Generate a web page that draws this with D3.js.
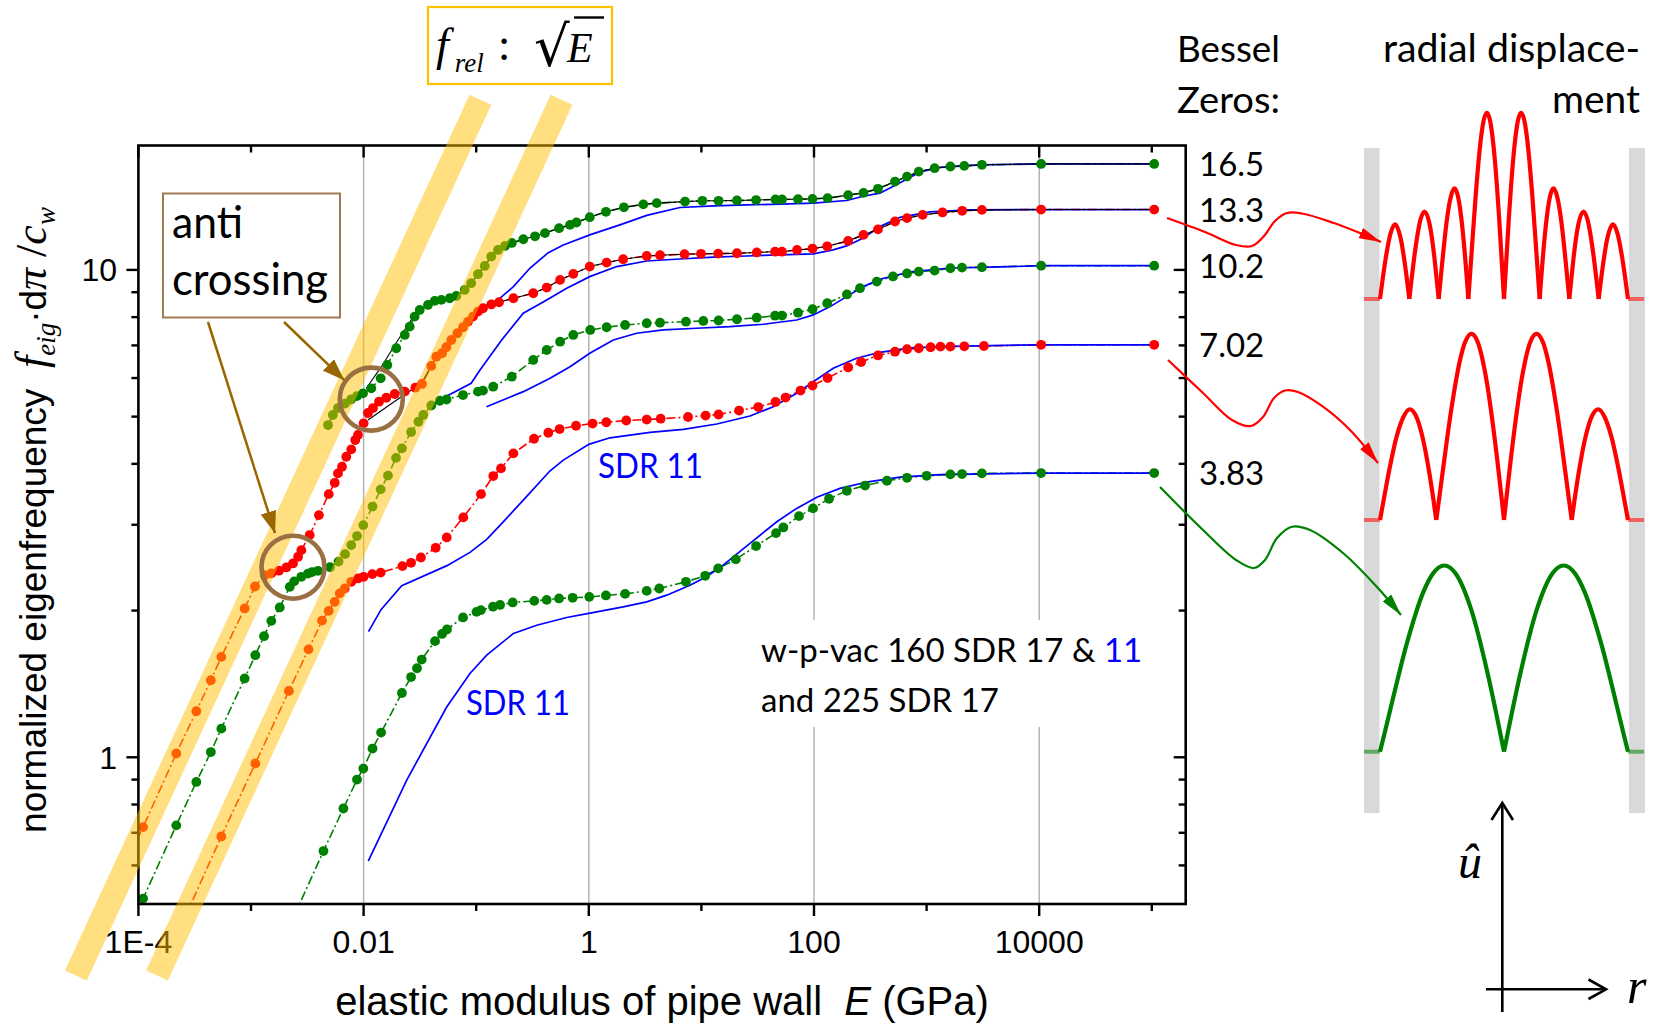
<!DOCTYPE html>
<html><head><meta charset="utf-8">
<script src="https://cdn.jsdelivr.net/npm/d3@7"></script>
<style>body{margin:0;background:#fff}svg{display:block}</style>
</head><body>
<svg id="c" width="1653" height="1024"></svg>
<script>
// ---------------- DATA (E in GPa, normalized eigenfrequency) ----------------
const xMajor = [1e-4, 1e-2, 1, 100, 1e4];
const xMajorLabels = ["1E-4", "0.01", "1", "100", "10000"];
const xMinor = [1e-3, 0.1, 10, 1000, 1e5];
const yMajor = [1, 10];
const yMajorLabels = ["1", "10"];
const yMinor = [0.6, 0.7, 0.8, 0.9, 2, 3, 4, 5, 6, 7, 8, 9];

const besselZeros = [3.83, 7.02, 10.2, 13.3, 16.5];
const besselLabels = ["3.83", "7.02", "10.2", "13.3", "16.5"];

// green mode 1 (plateau 3.83)
const greenMode1 = [[2.43e-3,0.474],[4.40e-3,0.642],[6.61e-3,0.785],[8.74e-3,0.900],[9.94e-3,0.948],[1.20e-2,1.042],[1.43e-2,1.124],[2.19e-2,1.355],[2.64e-2,1.461],[2.98e-2,1.523],[3.28e-2,1.587],[4.31e-2,1.731],[4.97e-2,1.791],[5.50e-2,1.829],[7.64e-2,1.936],[0.1006,1.988],[0.110,2.004],[0.141,2.037],[0.163,2.054],[0.211,2.078],[0.328,2.094],[0.423,2.104],[0.544,2.118],[0.719,2.124],[1.01,2.134],[1.42,2.148],[2.10,2.164],[3.27,2.195],[4.23,2.220],[7.29,2.291],[10.8,2.357],[14.1,2.441],[20.2,2.547],[30.6,2.713],[46.0,2.884],[53.4,2.962],[73.6,3.125],[98.0,3.241],[136,3.392],[196,3.523],[284,3.610],[445,3.693],[670,3.745],[1000,3.781],[1627,3.806],[2063,3.812],[3100,3.824],[1.04e4,3.83],[1.05e5,3.83]];
// red mode 2 (plateau 7.02)
const redMode2 = [[2.64e-4,0.474],[5.45e-4,0.688],[1.092e-3,0.971],[2.17e-3,1.368],[3.24e-3,1.665],[4.27e-3,1.907],[4.90e-3,1.997],[5.54e-3,2.084],[6.14e-3,2.169],[6.80e-3,2.220],[7.77e-3,2.291],[8.91e-3,2.328],[1.00e-2,2.346],[1.195e-2,2.376],[1.418e-2,2.393],[2.21e-2,2.467],[2.64e-2,2.506],[3.23e-2,2.570],[4.37e-2,2.690],[5.47e-2,2.825],[7.68e-2,3.106],[0.1103,3.467],[0.1418,3.776],[0.166,3.915],[0.214,4.203],[0.326,4.504],[0.437,4.633],[0.551,4.715],[0.770,4.789],[1.08,4.839],[1.43,4.869],[2.15,4.909],[3.27,4.932],[4.35,4.951],[7.61,4.991],[10.9,5.026],[14.2,5.050],[21.6,5.146],[32.0,5.232],[45.5,5.358],[55.9,5.472],[75.9,5.656],[97,5.791],[132,6.000],[201,6.307],[262,6.473],[370,6.675],[524,6.796],[670,6.874],[852,6.906],[1085,6.939],[1328,6.96],[1627,6.96],[2160,6.97],[3230,6.98],[1.04e4,7.02],[1.05e5,7.02]];
// green mode 3 (plateau 10.2)
const greenMode3 = [[9.2e-5,0.474],[1.1e-4,0.513],[2.17e-4,0.725],[3.27e-4,0.890],[4.40e-4,1.025],[5.45e-4,1.145],[8.78e-4,1.451],[1.092e-3,1.620],[1.305e-3,1.772],[1.515e-3,1.905],[1.80e-3,2.030],[2.21e-3,2.237],[2.42e-3,2.296],[2.80e-3,2.346],[3.21e-3,2.382],[3.48e-3,2.399],[3.93e-3,2.413],[5.03e-3,2.455],[5.99e-3,2.520],[6.84e-3,2.611],[7.77e-3,2.725],[8.74e-3,2.844],[9.94e-3,2.995],[1.20e-2,3.269],[1.418e-2,3.546],[1.647e-2,3.784],[1.94e-2,4.115],[2.19e-2,4.304],[2.64e-2,4.649],[3.07e-2,4.881],[3.39e-2,5.039],[3.99e-2,5.270],[4.74e-2,5.390],[5.45e-2,5.421],[7.64e-2,5.537],[0.1037,5.626],[0.1149,5.653],[0.1415,5.760],[0.207,6.038],[0.321,6.535],[0.423,6.850],[0.556,7.125],[0.728,7.354],[1.03,7.530],[1.44,7.627],[2.10,7.709],[3.27,7.772],[4.29,7.794],[7.29,7.830],[10.4,7.857],[14.2,7.875],[20.7,7.920],[31.0,7.980],[45.1,8.056],[52.0,8.06],[72.1,8.171],[97.0,8.304],[131,8.543],[196,8.906],[256,9.172],[361,9.462],[503,9.697],[670,9.835],[852,9.92],[1178,9.97],[1627,10.08],[2063,10.11],[3100,10.13],[1.04e4,10.2],[1.05e5,10.2]];
// red mode 4 (plateau 13.3)
const redMode4 = [[8.42e-5,0.63],[1.10e-4,0.719],[2.17e-4,1.018],[3.27e-4,1.243],[4.40e-4,1.439],[5.45e-4,1.607],[8.78e-4,2.020],[1.085e-3,2.241],[1.324e-3,2.364],[1.515e-3,2.384],[1.77e-3,2.415],[2.06e-3,2.452],[2.36e-3,2.499],[2.62e-3,2.578],[2.80e-3,2.661],[3.32e-3,2.857],[4.01e-3,3.140],[4.90e-3,3.467],[5.54e-3,3.658],[5.92e-3,3.824],[6.43e-3,3.946],[7.02e-3,4.137],[7.77e-3,4.283],[8.43e-3,4.476],[8.91e-3,4.584],[1.00e-2,4.844],[1.094e-2,5.086],[1.212e-2,5.207],[1.37e-2,5.366],[1.59e-2,5.467],[1.89e-2,5.564],[2.32e-2,5.626],[2.88e-2,5.733],[3.30e-2,5.834],[3.99e-2,6.353],[4.42e-2,6.637],[4.97e-2,6.745],[5.43e-2,6.939],[6.01e-2,7.182],[6.80e-2,7.413],[7.64e-2,7.627],[8.45e-2,7.830],[9.37e-2,8.020],[0.1037,8.211],[0.1149,8.343],[0.136,8.495],[0.1594,8.584],[0.214,8.747],[0.321,8.957],[0.423,9.199],[0.556,9.539],[0.728,9.813],[1.02,10.16],[1.44,10.35],[2.02,10.52],[3.27,10.68],[4.29,10.72],[7.08,10.77],[9.92,10.79],[14.1,10.80],[20.7,10.82],[31.0,10.86],[45.1,10.90],[52.0,10.90],[70.7,10.99],[97.0,11.06],[131,11.18],[201,11.47],[275,11.80],[370,12.11],[524,12.57],[670,12.77],[922,12.97],[1385,13.12],[2070,13.22],[3100,13.28],[1.04e4,13.3],[1.05e5,13.3]];
// green mode 5 (plateau 16.5)
const greenMode5 = [[4.83e-3,4.805],[5.33e-3,5.039],[5.92e-3,5.207],[6.84e-3,5.319],[7.73e-3,5.421],[8.74e-3,5.511],[9.88e-3,5.582],[1.17e-2,5.716],[1.418e-2,5.993],[1.624e-2,6.381],[1.95e-2,6.906],[2.32e-2,7.354],[2.57e-2,7.649],[2.84e-2,8.020],[3.15e-2,8.277],[3.73e-2,8.474],[4.28e-2,8.638],[4.90e-2,8.679],[5.82e-2,8.747],[6.66e-2,8.843],[7.90e-2,9.097],[9.02e-2,9.391],[0.1037,9.799],[0.119,10.19],[0.136,10.65],[0.156,10.99],[0.180,11.20],[0.207,11.36],[0.262,11.56],[0.333,11.72],[0.408,11.90],[0.544,12.18],[0.681,12.37],[0.777,12.51],[1.02,12.83],[1.42,13.16],[2.05,13.44],[3.05,13.63],[4.01,13.71],[7.15,13.81],[10.2,13.86],[14.2,13.86],[20.7,13.88],[30.6,13.91],[45.5,13.95],[52.0,13.95],[72.1,13.97],[97.0,13.99],[132,14.04],[201,14.24],[275,14.39],[370,14.67],[524,15.18],[670,15.54],[852,15.91],[1178,16.17],[1627,16.30],[2160,16.35],[3100,16.43],[1.04e4,16.5],[1.05e5,16.5]];

// SDR 11 (blue lines)
const blueMode1 = [[1.10e-2,0.612],[2.41e-2,0.897],[5.47e-2,1.268],[8.80e-2,1.486],[0.124,1.620],[0.214,1.795],[0.345,1.866],[0.636,1.936],[1.00,1.973],[2.02,2.035],[3.27,2.084],[4.92,2.151],[7.91,2.255],[11.1,2.346],[15.6,2.479],[27.0,2.747],[46.7,3.042],[70.2,3.241],[106,3.415],[170,3.562],[303,3.675],[581,3.758],[1315,3.803],[1.04e4,3.83],[1.05e5,3.83]];
const blueMode2 = [[1.105e-2,1.811],[1.427e-2,2.009],[2.18e-2,2.249],[5.50e-2,2.473],[8.80e-2,2.633],[0.124,2.799],[0.174,3.042],[0.262,3.371],[0.453,3.871],[0.594,4.072],[1.00,4.386],[1.54,4.524],[3.50,4.642],[6.91,4.709],[13.7,4.828],[27.0,5.014],[43.5,5.240],[70.2,5.582],[98.6,5.896],[148,6.283],[239,6.587],[385,6.776],[714,6.917],[1630,6.97],[1.04e4,7.02],[1.05e5,7.02]];
const blueMode3 = [[0.1235,5.240],[0.262,5.626],[0.453,5.993],[0.681,6.331],[1.02,6.745],[1.65,7.182],[2.66,7.413],[4.59,7.530],[9.06,7.591],[17.9,7.649],[35.5,7.735],[70.2,7.894],[98.6,8.085],[139,8.408],[195,8.814],[274,9.241],[385,9.570],[714,9.906],[1630,10.09],[4490,10.14],[1.04e4,10.2],[1.05e5,10.2]];
const blueMode4 = [[3.99e-2,5.282],[5.50e-2,5.511],[9.02e-2,5.853],[0.1081,6.232],[0.1684,7.182],[0.262,8.149],[0.423,8.679],[0.636,9.172],[1.02,9.687],[1.77,10.16],[3.27,10.43],[6.45,10.53],[12.8,10.62],[25.2,10.68],[49.9,10.74],[98.6,10.79],[148,10.99],[195,11.20],[274,11.62],[385,12.27],[581,12.82],[1072,13.16],[2430,13.28],[1.04e4,13.3],[1.05e5,13.3]];
const blueMode5 = [[0.1081,8.343],[0.156,8.679],[0.214,9.241],[0.301,10.09],[0.437,10.85],[0.594,11.25],[1.02,11.80],[1.89,12.37],[3.27,12.94],[6.45,13.43],[12.8,13.53],[25.2,13.60],[49.9,13.64],[98.6,13.71],[195,13.88],[274,14.16],[385,14.37],[581,15.09],[874,15.89],[1315,16.23],[2990,16.43],[1.04e4,16.5],[1.05e5,16.5]];

// 225 SDR 17 (thin black lines, differ only near the anti-crossing)
const blackMode4Start = [[1.094e-2,4.92],[2.16e-2,5.494],[3.26e-2,5.853]];
const blackMode5Start = [[1.057e-2,5.716],[1.44e-2,6.331],[2.02e-2,7.182],[2.84e-2,8.085],[3.49e-2,8.408],[4.58e-2,8.609]];

// f ~ sqrt(E) guide bands (end points)
const leftBand = [[2.786e-5,0.3567],[0.1091,22.34]];
const rightBand = [[1.462e-4,0.3567],[0.5728,22.34]];
// anti-crossing circles (centre E, f)
const antiCrossings = [[1.17e-2,5.43],[2.36e-3,2.455]];

// |J1(x)| table for the radial displacement sketches
const besselJ1Abs = [[0,0],[0.5,0.2423],[1,0.4401],[1.5,0.5579],[1.8412,0.5819],[2.2,0.5560],[2.5,0.4971],[3,0.3391],[3.5,0.1374],[3.7,0.054],[3.8317,0],[4.0,0.0660],[4.2,0.1386],[4.6,0.2566],[5,0.3276],[5.3314,0.3461],[5.7,0.3212],[6.1,0.2554],[6.5,0.1538],[6.8,0.065],[7.0156,0],[7.25,0.066],[7.5,0.1352],[8,0.2346],[8.5363,0.2733],[9,0.2453],[9.5,0.1613],[9.9,0.0694],[10.1735,0],[10.6,0.0992],[11.1,0.1890],[11.706,0.2333],[12.2,0.2040],[12.7,0.1290],[13.0,0.0703],[13.3237,0]];
const shapeModes = [13.3237, 7.0156, 3.8317];

// ---------------- LAYOUT ----------------
const RED = "#ff0000", GREEN = "#008000", BLUE = "#0000ff", BROWN = "#9a6f42", ARROWBROWN = "#996600";
const SANS = "'Liberation Sans', Arial, sans-serif";
const CAL = "Lato, 'Open Sans', sans-serif";
const SERIF = "'Liberation Serif', 'Times New Roman', serif";
const plot = {left: 138.4, right: 1185.7, top: 145.5, bottom: 904};

const svg = d3.select('#c');
const defs = svg.append('defs');
defs.append('clipPath').attr('id', 'plotClip').append('rect')
  .attr('x', plot.left).attr('y', plot.top)
  .attr('width', plot.right - plot.left).attr('height', plot.bottom - plot.top);

function marker(id, color, w, h) {
  defs.append('marker').attr('id', id).attr('viewBox', `0 0 ${w} ${h}`)
    .attr('refX', w).attr('refY', h / 2).attr('markerWidth', w).attr('markerHeight', h)
    .attr('markerUnits', 'userSpaceOnUse').attr('orient', 'auto')
    .append('path').attr('d', `M0,0 L${w},${h/2} L0,${h} Z`).attr('fill', color);
}
marker('mBrown', ARROWBROWN, 22, 16);
marker('mRed', RED, 22, 11);
marker('mGreen', GREEN, 22, 11);

const x = d3.scaleLog().domain([1e-4, 2e5]).range([plot.left, plot.right]);
const y = d3.scaleLog().domain([0.5, 18]).range([plot.bottom, plot.top]);
const line = d3.line().x(d => x(d[0])).y(d => y(d[1]));

// grid
svg.append('g').selectAll('line').data(xMajor.slice(1)).join('line')
  .attr('x1', d => x(d)).attr('x2', d => x(d)).attr('y1', plot.top).attr('y2', plot.bottom)
  .attr('stroke', '#b4b4b4').attr('stroke-width', 1.5);

// white background for the legend text
svg.append('rect').attr('x', 752).attr('y', 620).attr('width', 396).attr('height', 107).attr('fill', '#fff');

const dataG = svg.append('g').attr('clip-path', 'url(#plotClip)');
const dotted = [
  {d: greenMode1, c: GREEN}, {d: redMode2, c: RED}, {d: greenMode3, c: GREEN},
  {d: redMode4, c: RED}, {d: greenMode5, c: GREEN}
];
dotted.forEach(s => dataG.append('path').attr('d', line(s.d)).attr('fill', 'none')
  .attr('stroke', s.c).attr('stroke-width', 1.6).attr('stroke-dasharray', '9,3,2,3'));
[blueMode1, blueMode2, blueMode3, blueMode4, blueMode5].forEach(d =>
  dataG.append('path').attr('d', line(d)).attr('fill', 'none').attr('stroke', BLUE).attr('stroke-width', 1.7));
const blackMode4 = blackMode4Start.concat(redMode4.filter(d => d[0] >= 0.0399));
const blackMode5 = blackMode5Start.concat(greenMode5.filter(d => d[0] >= 0.058));
[blackMode4, blackMode5].forEach(d =>
  dataG.append('path').attr('d', line(d)).attr('fill', 'none').attr('stroke', '#000').attr('stroke-width', 1.1));
dotted.forEach(s => dataG.append('g').selectAll('circle')
  .data(s.d.filter(p => p[0] >= 1e-4 && p[1] >= 0.5 && p[1] <= 18)).join('circle')
  .attr('cx', p => x(p[0])).attr('cy', p => y(p[1])).attr('r', 4.9).attr('fill', s.c));

// axes frame + ticks
const axG = svg.append('g').attr('stroke', '#000');
axG.append('rect').attr('x', plot.left).attr('y', plot.top).attr('width', plot.right - plot.left)
  .attr('height', plot.bottom - plot.top).attr('fill', 'none').attr('stroke-width', 2.6);
function ticksX(vals, len) {
  axG.append('g').selectAll('line').data(vals).join('line').attr('stroke-width', 2.4)
    .attr('x1', d => x(d)).attr('x2', d => x(d)).attr('y1', plot.bottom).attr('y2', plot.bottom + len);
  axG.append('g').selectAll('line').data(vals).join('line').attr('stroke-width', 2.4)
    .attr('x1', d => x(d)).attr('x2', d => x(d)).attr('y1', plot.top).attr('y2', plot.top + len);
}
function ticksY(vals, len) {
  axG.append('g').selectAll('line').data(vals).join('line').attr('stroke-width', 2.4)
    .attr('y1', d => y(d)).attr('y2', d => y(d)).attr('x1', plot.left).attr('x2', plot.left - len);
  axG.append('g').selectAll('line').data(vals).join('line').attr('stroke-width', 2.4)
    .attr('y1', d => y(d)).attr('y2', d => y(d)).attr('x1', plot.right).attr('x2', plot.right - len);
}
ticksX(xMajor, 12); ticksX(xMinor, 7);
ticksY(yMajor, 12); ticksY(yMinor, 7);

svg.append('g').selectAll('text').data(xMajor).join('text')
  .attr('x', d => x(d)).attr('y', 953).attr('text-anchor', 'middle')
  .attr('font-family', SANS).attr('font-size', 32).text((d, i) => xMajorLabels[i]);
svg.append('g').selectAll('text').data(yMajor).join('text')
  .attr('x', 117).attr('y', d => y(d) + 11.5).attr('text-anchor', 'end')
  .attr('font-family', SANS).attr('font-size', 32).text((d, i) => yMajorLabels[i]);

// axis titles
const xt = svg.append('text').attr('x', 662).attr('y', 1015).attr('text-anchor', 'middle')
  .attr('font-family', SANS).attr('font-size', 40).attr('xml:space', 'preserve');
xt.append('tspan').text('elastic modulus of pipe wall  ');
xt.append('tspan').attr('font-style', 'italic').text('E');
xt.append('tspan').text(' (GPa)');

const yt = svg.append('text').attr('transform', 'translate(46,520) rotate(-90)')
  .attr('text-anchor', 'middle').attr('font-family', SANS).attr('font-size', 37).attr('xml:space', 'preserve');
yt.append('tspan').text('normalized eigenfrequency  ');
yt.append('tspan').attr('font-family', SERIF).attr('font-style', 'italic').attr('font-size', 44).text('f');
yt.append('tspan').attr('font-family', SERIF).attr('font-style', 'italic').attr('font-size', 27).attr('dy', 9).text('eig');
yt.append('tspan').attr('dy', -9).text('·d');
yt.append('tspan').attr('font-family', SERIF).attr('font-style', 'italic').attr('font-size', 44).text('π');
yt.append('tspan').attr('font-family', SERIF).attr('font-size', 44).text(' /');
yt.append('tspan').attr('font-family', SERIF).attr('font-style', 'italic').attr('font-size', 44).text('c');
yt.append('tspan').attr('font-family', SERIF).attr('font-style', 'italic').attr('font-size', 27).attr('dy', 9).text('w');

// in-plot labels
function calText(tx, ty, str, size, len, color, anchor) {
  const t = svg.append('text').attr('x', tx).attr('y', ty).attr('font-family', CAL).attr('font-size', size)
    .attr('fill', color || '#000').attr('text-anchor', anchor || 'start').text(str);
  if (len) t.attr('textLength', len).attr('lengthAdjust', 'spacingAndGlyphs');
  return t;
}
calText(598, 478, 'SDR 11', 34, 105, BLUE);
calText(466, 715, 'SDR 11', 34, 104, BLUE);
const lg = svg.append('text').attr('x', 761).attr('y', 662).attr('font-family', CAL).attr('font-size', 33).attr('xml:space', 'preserve');
lg.append('tspan').text('w-p-vac 160 SDR 17 & ');
lg.append('tspan').attr('fill', BLUE).text('11');
calText(761, 712, 'and 225 SDR 17', 33);

// Bessel zeros
svg.append('g').selectAll('text').data(besselZeros).join('text')
  .attr('x', 1199).attr('y', d => y(d) + 12).attr('font-family', CAL).attr('font-size', 33)
  .text((d, i) => besselLabels[i]);
calText(1177, 62, 'Bessel', 37, 103);
calText(1177, 113, 'Zeros:', 37, 103);
calText(1640, 62, 'radial displace-', 38, 257, '#000', 'end');
calText(1640, 113, 'ment', 38, 88, '#000', 'end');

// sqrt(E) bands (translucent, on top of data)
[leftBand, rightBand].forEach(b => svg.append('path').attr('d', line(b)).attr('fill', 'none')
  .attr('stroke', '#ffc000').attr('stroke-opacity', 0.5).attr('stroke-width', 24));

// anti-crossing circles
svg.append('g').selectAll('circle').data(antiCrossings).join('circle')
  .attr('cx', d => x(d[0])).attr('cy', d => y(d[1])).attr('r', 31.5)
  .attr('fill', 'none').attr('stroke', BROWN).attr('stroke-width', 4.6);

// anti crossing box
svg.append('rect').attr('x', 163).attr('y', 193.5).attr('width', 177).attr('height', 124)
  .attr('fill', '#fff').attr('stroke', '#a07a50').attr('stroke-width', 2);
calText(172, 238, 'anti', 45, 71);
calText(172, 295, 'crossing', 45, 156);
svg.append('line').attr('x1', 208).attr('y1', 322).attr('x2', x(antiCrossings[1][0]) - 18).attr('y2', y(antiCrossings[1][1]) - 34)
  .attr('stroke', ARROWBROWN).attr('stroke-width', 2.5).attr('marker-end', 'url(#mBrown)');
svg.append('line').attr('x1', 284).attr('y1', 322).attr('x2', x(antiCrossings[0][0]) - 27).attr('y2', y(antiCrossings[0][1]) - 19)
  .attr('stroke', ARROWBROWN).attr('stroke-width', 2.5).attr('marker-end', 'url(#mBrown)');

// f_rel : sqrt(E) box
svg.append('rect').attr('x', 428).attr('y', 7).attr('width', 184).attr('height', 77)
  .attr('fill', '#fff').attr('stroke', '#ffc000').attr('stroke-width', 2.2);
const fr = svg.append('text').attr('x', 436).attr('y', 60).attr('font-family', SERIF).attr('font-size', 46);
fr.append('tspan').attr('font-style', 'italic').text('f');
fr.append('tspan').attr('font-style', 'italic').attr('font-size', 27).attr('dy', 12).attr('dx', 6).text('rel');
fr.append('tspan').attr('dy', -12).attr('dx', 14).text(':');
svg.append('text').attr('x', 534).attr('y', 66).attr('font-family', "'DejaVu Serif', serif").attr('font-size', 56).text('√');
svg.append('line').attr('x1', 574).attr('x2', 604).attr('y1', 17.5).attr('y2', 17.5).attr('stroke', '#000').attr('stroke-width', 2.4);
svg.append('text').attr('x', 567).attr('y', 62).attr('font-family', SERIF).attr('font-style', 'italic').attr('font-size', 42).text('E');

// ---------------- right panel: radial displacement sketches ----------------
svg.append('rect').attr('x', 1364).attr('y', 148).attr('width', 15.5).attr('height', 665).attr('fill', '#d9d9d9');
svg.append('rect').attr('x', 1629).attr('y', 148).attr('width', 16).attr('height', 665).attr('fill', '#d9d9d9');
const rx = d3.scaleLinear().domain([-1, 1]).range([1380, 1628]);
const shapeBase = [299, 520, 751.7];
const shapeColor = [RED, RED, GREEN];
shapeModes.forEach((z, k) => {
  const uy = d3.scaleLinear().domain([0, 1]).range([shapeBase[k], shapeBase[k] - 320]);
  const pts = besselJ1Abs.filter(d => d[0] <= z + 1e-6).map(d => [d[0] / z, d[1]]);
  const lobes = []; let cur = [pts[0]];
  for (let i = 1; i < pts.length; i++) { cur.push(pts[i]); if (pts[i][1] === 0) { lobes.push(cur); cur = [pts[i]]; } }
  const sl = d3.line().x(d => rx(d[0])).y(d => uy(d[1])).curve(d3.curveMonotoneX);
  const g = svg.append('g').attr('fill', 'none').attr('stroke', shapeColor[k]).attr('stroke-width', 4.2);
  lobes.forEach(l => {
    g.append('path').attr('d', sl(l));
    g.append('path').attr('d', sl(l.map(d => [-d[0], d[1]]).reverse()));
  });
  [[-1.13, -1], [1, 1.13]].forEach(seg => svg.append('line')
    .attr('x1', rx(seg[0])).attr('x2', rx(seg[1])).attr('y1', uy(0)).attr('y2', uy(0))
    .attr('stroke', shapeColor[k]).attr('stroke-opacity', 0.55).attr('stroke-width', 4));
});

// wavy connector arrows
const wave = d3.line().curve(d3.curveCatmullRom.alpha(0.5));
const arrows = [
  {c: RED, m: 'mRed', p: [[1167,218],[1205,232],[1236,245],[1252,246],[1264,236],[1275,221],[1287,213],[1302,213.5],[1333,222.7],[1360,233],[1381,242]]},
  {c: RED, m: 'mRed', p: [[1168,360],[1203,393],[1232,420],[1251,426],[1263,417],[1274,398],[1285,390.5],[1298,392],[1323,406.7],[1350,430],[1378,463]]},
  {c: GREEN, m: 'mGreen', p: [[1160,487],[1203,530],[1236,560],[1254,568],[1265,560],[1277,538],[1292,526.7],[1310,530],[1343,553],[1377,587],[1401,615]]}
];
arrows.forEach(a => svg.append('path').attr('d', wave(a.p)).attr('fill', 'none')
  .attr('stroke', a.c).attr('stroke-width', 2.2).attr('marker-end', `url(#${a.m})`));

// u-hat / r axes
const ax = svg.append('g').attr('stroke', '#000').attr('stroke-width', 2.6).attr('fill', 'none');
ax.append('line').attr('x1', 1502.3).attr('x2', 1502.3).attr('y1', 1012).attr('y2', 804);
ax.append('path').attr('d', 'M1491.5,820 L1502.3,803 L1513,820');
ax.append('line').attr('x1', 1486).attr('x2', 1605).attr('y1', 989.3).attr('y2', 989.3);
ax.append('path').attr('d', 'M1588.5,979.5 L1606,989.3 L1588.5,999');
svg.append('text').attr('x', 1470).attr('y', 878).attr('text-anchor', 'middle')
  .attr('font-family', SERIF).attr('font-style', 'italic').attr('font-size', 48).text('û');
svg.append('text').attr('x', 1627).attr('y', 1003).attr('font-family', SERIF)
  .attr('font-style', 'italic').attr('font-size', 50).text('r');
</script></body></html>
